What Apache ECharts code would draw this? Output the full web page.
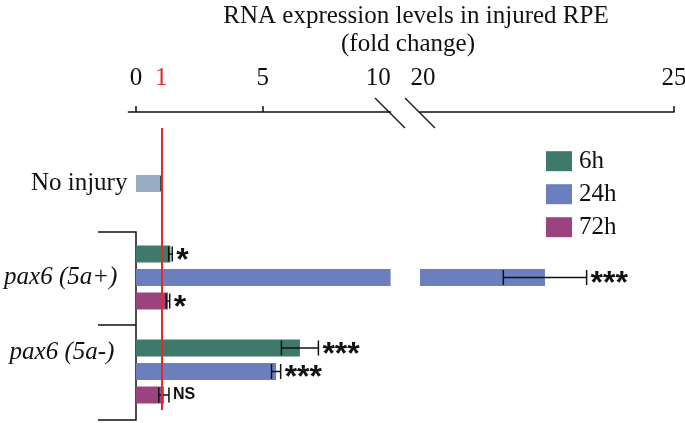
<!DOCTYPE html>
<html>
<head>
<meta charset="utf-8">
<script src="https://cdn.jsdelivr.net/npm/echarts@6/dist/echarts.min.js"></script>
<style>html,body{margin:0;padding:0;background:#fff}#c{width:685px;height:423px}</style>
</head>
<body>
<div id="c"></div>
<script>
// ---- data ----
const groupNames = ['pax6 (5a+)', 'pax6 (5a-)'];
const controlName = 'No injury';
const timepoints = ['6h', '24h', '72h'];
const controlValue = [1.0];
const controlErr = [0];
const values6h = [1.36, 6.47];
const err6h = [0.07, 0.73];
const values24h = [22.46, 5.53];
const err24h = [0.82, 0.18];
const values72h = [1.26, 1.1];
const err72h = [0.07, 0.2];
const sig6h = ['*', '***'];
const sig24h = ['***', '***'];
const sig72h = ['*', 'NS'];
const leftTickLabels = [0, 1, 5, 10];
const leftTickMarks = [0, 5];
const rightTickLabels = [20, 25];
const rightTickMarks = [25];
const referenceValue = 1;

// ---- build rows ----
const NROWS = 10;
const rowNames = new Array(NROWS).fill('');
function rowOf(g, t) { return 3 + g * 4 + t; }
const seriesValues = [values6h, values24h, values72h];
const seriesErrs = [err6h, err24h, err72h];
const seriesSigs = [sig6h, sig24h, sig72h];
const colors = ['#3d7a6c', '#6b7fbe', '#9b437f'];
const controlColor = '#97adc1';

function barData(t) {
  const d = new Array(NROWS).fill(null);
  groupNames.forEach((g, gi) => { d[rowOf(gi, t)] = seriesValues[t][gi]; });
  return d;
}
const controlData = new Array(NROWS).fill(null);
controlData[0] = controlValue[0];

const errItems = [];
errItems.push({ v: [controlValue[0], 0, controlErr[0]], sig: '' });
timepoints.forEach((tp, t) => {
  groupNames.forEach((g, gi) => {
    errItems.push({ v: [seriesValues[t][gi], rowOf(gi, t), seriesErrs[t][gi]], sig: seriesSigs[t][gi] });
  });
});

const labelRows = { 0: controlName, 4: '{i|' + groupNames[0] + '}', 7: '{j|' + groupNames[1] + '}' };

const serif = 'Liberation Serif';
const sans = 'Liberation Sans';

function errRender(params, api) {
  const mean = api.value(0), row = api.value(1), err = api.value(2);
  const item = errItems[params.dataIndex];
  const lo = api.coord([mean - err, row]);
  const hi = api.coord([mean + err, row]);
  const cs = params.coordSys;
  if (lo[0] < cs.x - 1 || hi[0] > cs.x + cs.width + 1) return null;
  const y = lo[1];
  const h = 7.5;
  const st = { stroke: '#111', lineWidth: 1.5 };
  const children = [
    { type: 'line', shape: { x1: lo[0], y1: y, x2: hi[0], y2: y }, style: st },
    { type: 'line', shape: { x1: lo[0], y1: y - h, x2: lo[0], y2: y + h }, style: st },
    { type: 'line', shape: { x1: hi[0], y1: y - h, x2: hi[0], y2: y + h }, style: st }
  ];
  if (item.sig) {
    const isStar = item.sig.indexOf('*') >= 0;
    const fs = isStar ? 32 : 16;
    children.push({
      type: 'text',
      style: {
        text: item.sig, x: hi[0] + 4, y: y + (isStar ? fs * 0.22 : 0),
        fill: '#111', font: 'bold ' + fs + 'px ' + sans,
        textAlign: 'left', textVerticalAlign: 'middle'
      }
    });
  }
  return { type: 'group', children };
}

const gridTop = 171.75, gridH = 235, axisOffset = 59.75;

const option = {
  animation: false,
  title: [
    { text: 'RNA expression levels in injured RPE', left: 416, top: 3.5, textAlign: 'center', padding: 0,
      textStyle: { fontFamily: serif, fontSize: 25, fontWeight: 'normal', color: '#111' } },
    { text: '(fold change)', left: 408, top: 32, textAlign: 'center', padding: 0,
      textStyle: { fontFamily: serif, fontSize: 25, fontWeight: 'normal', color: '#111' } }
  ],
  legend: {
    data: timepoints, orient: 'vertical', left: 546, top: 148.7, padding: 0,
    itemWidth: 26, itemHeight: 20, itemGap: 8, icon: 'rect', selectedMode: false,
    textStyle: { fontFamily: serif, fontSize: 25, color: '#111', padding: [0, 0, 0, 2] }
  },
  grid: [
    { left: 128.4, top: gridTop, width: 262.2, height: gridH, outerBoundsMode: 'none', containLabel: false },
    { left: 420, top: gridTop, width: 254, height: gridH, outerBoundsMode: 'none', containLabel: false }
  ],
  xAxis: [
    { type: 'value', gridIndex: 0, position: 'top', offset: axisOffset, min: -0.3, max: 10.05,
      splitLine: { show: false },
      axisLine: { show: true, lineStyle: { color: '#111', width: 1.5 } },
      axisTick: { show: true, customValues: leftTickMarks, length: 6, inside: false, lineStyle: { color: '#111', width: 1.5 } },
      axisLabel: { customValues: leftTickLabels, margin: 21, fontFamily: serif, fontSize: 25, color: '#111',
        formatter: v => v === referenceValue ? '{r|' + v + '}' : (v === 10 ? '{t|' + v + '}' : String(v)),
        rich: { r: { color: '#e02b2b', fontFamily: serif, fontSize: 25 }, t: { fontFamily: serif, fontSize: 25, color: '#111', padding: [0, 22, 0, 0] } } } },
    { type: 'value', gridIndex: 1, position: 'top', offset: axisOffset, min: 20, max: 25,
      splitLine: { show: false },
      axisLine: { show: true, lineStyle: { color: '#111', width: 1.5 } },
      axisTick: { show: true, customValues: rightTickMarks, length: 6, inside: false, lineStyle: { color: '#111', width: 1.5 } },
      axisLabel: { customValues: rightTickLabels, margin: 21, fontFamily: serif, fontSize: 25, color: '#111',
        formatter: v => (v === 20 ? '{s|' + v + '}' : String(v)),
        rich: { s: { fontFamily: serif, fontSize: 25, color: '#111', padding: [0, 0, 0, 6] } } } }
  ],
  yAxis: [
    { type: 'category', gridIndex: 0, inverse: true, data: rowNames.map((_, i) => i),
      axisLine: { show: false }, axisTick: { show: false }, splitLine: { show: false },
      axisLabel: { interval: 0, margin: 1, fontFamily: serif, fontSize: 25, color: '#111',
        formatter: (v, i) => labelRows[i] || '',
        rich: { i: { fontFamily: serif, fontSize: 25, fontStyle: 'italic', color: '#111', padding: [0, 10, 0, 0] },
                j: { fontFamily: serif, fontSize: 25, fontStyle: 'italic', color: '#111', padding: [8, 13, 0, 0] } } } },
    { type: 'category', gridIndex: 1, inverse: true, data: rowNames.map((_, i) => i), show: false }
  ],
  graphic: [
    { type: 'line', shape: { x1: 375, y1: 98, x2: 405, y2: 128 }, style: { stroke: '#111', lineWidth: 1.3 } },
    { type: 'line', shape: { x1: 405, y1: 98, x2: 435, y2: 128 }, style: { stroke: '#111', lineWidth: 1.3 } },
    { type: 'polyline', shape: { points: [[98, 232], [136, 232], [136, 420], [98, 420]] }, style: { stroke: '#111', lineWidth: 1.5, fill: null } },
    { type: 'line', shape: { x1: 98, y1: 325, x2: 136, y2: 325 }, style: { stroke: '#111', lineWidth: 1.5 } }
  ],
  series: [
    { name: controlName, type: 'bar', xAxisIndex: 0, yAxisIndex: 0, data: controlData, barWidth: 17, barGap: '-100%',
      itemStyle: { color: controlColor },
      markLine: { silent: true, symbol: 'none', label: { show: false },
        lineStyle: { color: '#e02b2b', width: 2, type: 'solid' },
        data: [[{ coord: [referenceValue, 0], y: 128 }, { coord: [referenceValue, 0], y: 410 }]] } },
    ...timepoints.map((tp, t) => ({ name: tp, type: 'bar', xAxisIndex: 0, yAxisIndex: 0, data: barData(t),
      barWidth: 17, barGap: '-100%', itemStyle: { color: colors[t] } })),
    ...timepoints.map((tp, t) => ({ name: tp, type: 'bar', xAxisIndex: 1, yAxisIndex: 1, data: barData(t),
      barWidth: 17, barGap: '-100%', itemStyle: { color: colors[t] } })),
    { type: 'custom', xAxisIndex: 0, yAxisIndex: 0, renderItem: errRender, data: errItems.map(d => d.v), z: 3 },
    { type: 'custom', xAxisIndex: 1, yAxisIndex: 1, renderItem: errRender, data: errItems.map(d => d.v), z: 3 }
  ]
};
const chart = echarts.init(document.getElementById('c'), null, { renderer: 'canvas' });
chart.setOption(option);
</script>
</body>
</html>
